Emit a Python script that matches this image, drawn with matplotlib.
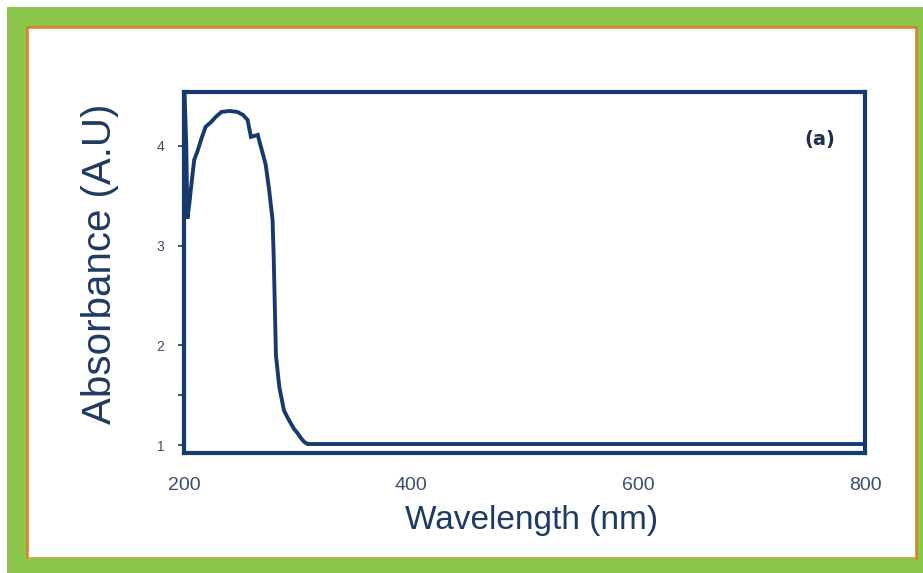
import matplotlib
matplotlib.use("Agg")
import matplotlib.pyplot as plt
from matplotlib.patches import Rectangle

# Data
wavelength = [200.5, 202, 203, 205, 206, 209, 212, 215, 219, 224, 228, 233, 240, 247, 252,
              256, 259, 262, 265, 267, 269, 272, 275, 278, 279, 281, 284, 288, 291, 294,
              297, 300, 303, 306, 309, 400, 500, 600, 700, 800]
absorbance = [4.52, 4.0, 3.27, 3.45, 3.56, 3.86, 3.95, 4.06, 4.19, 4.24, 4.29, 4.34, 4.35, 4.34, 4.31,
              4.26, 4.09, 4.10, 4.11, 4.02, 3.94, 3.81, 3.56, 3.26, 2.9, 1.90, 1.58, 1.35, 1.28, 1.22,
              1.16, 1.12, 1.07, 1.03, 1.01, 1.01, 1.01, 1.01, 1.01, 1.01]
xticks = [200, 400, 600, 800]
yticks = [1, 2, 3, 4]

W, H = 923, 573
fig = plt.figure(figsize=(W / 100, H / 100), dpi=100)
fig.patch.set_facecolor("white")

# green outer frame
fig.patches.append(Rectangle((7 / W, 0), 1 - 7 / W, 1 - 7 / H, transform=fig.transFigure,
                             facecolor="#8cc74c", edgecolor="none", zorder=-3))
# white panel with orange edge
fig.patches.append(Rectangle((27 / W, 15 / H), (916 - 27) / W, (558 - 27) / H,
                             transform=fig.transFigure, facecolor="white",
                             edgecolor="#e07b2a", linewidth=1.8, zorder=-2))
fig.patches.append(Rectangle((27 / W, 0.5 / H), (916 - 27) / W, 14.5 / H,
                             transform=fig.transFigure, facecolor="#8cc74c",
                             edgecolor="none", zorder=-1))

navy = "#173a6e"
ax = fig.add_axes([184 / W, 1 - 453 / H, (865 - 184) / W, (453 - 92) / H])
ax.set_facecolor("white")
ax.plot(wavelength, absorbance, color=navy, linewidth=2.8, solid_joinstyle="miter")
ax.set_xlim(200, 800)
ax.set_ylim(0.92, 4.54)

for s in ax.spines.values():
    s.set_color(navy)
    s.set_linewidth(3.0)

ax.set_xticks(xticks)
ax.set_xticklabels([str(v) for v in xticks])
ax.set_yticks(yticks)
ax.set_yticklabels([str(v) for v in yticks])
ax.set_yticks([1.5], minor=True)
ax.tick_params(axis="x", length=0, pad=17, labelsize=14, labelcolor="#3b4f6c")
ax.tick_params(axis="y", which="both", direction="out", length=4, width=1.2,
               color=navy, pad=10, labelsize=10, labelcolor="#3b4f6c")

ax.set_xlabel("Wavelength (nm)", fontsize=24, color="#1f3a63",
              fontfamily="Liberation Sans")
ax.set_ylabel("Absorbance (A.U)", fontsize=29, color="#1f3a63",
              fontfamily="Liberation Sans")
ax.xaxis.label.set_va("center")
ax.xaxis.set_label_coords((532 - 184) / (865 - 184), -(520 - 453) / (453 - 92))
ax.yaxis.label.set_va("center")
ax.yaxis.set_label_coords(-(184 - 100) / (865 - 184), (453 - 264) / (453 - 92))
for lab in ax.get_xticklabels() + ax.get_yticklabels():
    lab.set_fontfamily("Liberation Sans")

ax.text(760, 4.06, "(a)", fontsize=14, fontweight="bold", color="#1f2f4a",
        ha="center", va="center", fontfamily="DejaVu Sans")

fig.savefig("out.png", dpi=100, facecolor=fig.get_facecolor())
